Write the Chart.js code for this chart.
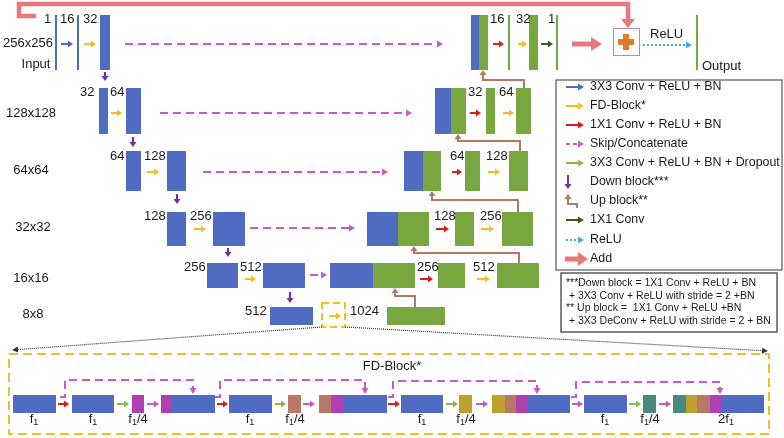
<!DOCTYPE html>
<html>
<head>
<meta charset="utf-8">
<script src="https://cdn.jsdelivr.net/npm/chart.js@4/dist/chart.umd.min.js"></script>
<style>
html, body { margin: 0; padding: 0; background: #fff; }
canvas { display: block; }
</style>
</head>
<body>
<canvas id="unetChart" width="784" height="438"></canvas>
<script>
var ctx = document.getElementById('unetChart').getContext('2d');

// colours used by the diagram
var colors = {
    blue: '#4f6cc2', green: '#78a63f', lightGreen: '#86b84c', red: '#e0191c', yellow: '#f2be22',
    skip: '#c65ac6', purple: '#6a36a0', brown: '#b8775f', darkGreen: '#3d5a22',
    relu: '#4aa6e6', add: '#e8787c', magenta: '#b040b2', salmon: '#b97766',
    gold: '#bfa02e', teal: '#468a80', plus: '#e07a2a', text: '#1a1a1a'
};

// --- chart content ---
var resolutionLabels = ['256x256', '128x128', '64x64', '32x32', '16x16', '8x8'];
var resolutionPos = [[28, 43], [31, 113], [31, 170], [33, 227], [31, 278], [33, 314]];

var channelLabels = ['1', '16', '32', '32', '64', '64', '128', '128', '256', '256', '512', '512',
    '16', '32', '1', '32', '64', '64', '128', '128', '256', '256', '512', '1024'];
var channelPos = [[44, 19], [60, 19], [83, 19], [80, 92], [110, 92], [110, 156], [144, 156],
    [144, 216], [190, 216], [184, 267], [240, 267], [245, 311],
    [490, 19], [516, 19], [548, 19], [468, 92], [499, 92], [450, 156], [486, 156],
    [434, 216], [480, 216], [417, 267], [473, 267], [350, 311]];

// feature map blocks: x0, y0, x1, y1, colour
var blocks = [
    [55, 15, 57, 70, 'blue'], [77, 15, 79, 70, 'blue'], [100, 15, 110, 70, 'blue'],
    [99, 88, 108, 134, 'blue'], [126, 88, 141, 134, 'blue'],
    [126, 151, 141, 191, 'blue'], [167, 151, 186, 191, 'blue'],
    [167, 212, 186, 246, 'blue'], [213, 212, 245, 246, 'blue'],
    [207, 263, 238, 288, 'blue'], [263, 263, 305, 288, 'blue'],
    [270, 307, 313, 325, 'blue'],
    [387, 307, 445, 325, 'green'],
    [330, 263, 373, 288, 'blue'], [373, 263, 415, 288, 'green'], [438, 263, 465, 288, 'green'], [497, 263, 539, 288, 'green'],
    [367, 212, 398, 246, 'blue'], [398, 212, 429, 246, 'green'], [455, 212, 474, 246, 'green'], [502, 212, 533, 246, 'green'],
    [404, 151, 423, 191, 'blue'], [423, 151, 441, 191, 'green'], [465, 151, 480, 191, 'green'], [509, 151, 528, 191, 'green'],
    [435, 88, 451, 134, 'blue'], [451, 88, 466, 134, 'green'], [486, 88, 495, 134, 'green'], [516, 88, 531, 134, 'green'],
    [471, 15, 479, 70, 'blue'], [479, 15, 488, 70, 'green'], [508, 15, 510, 70, 'green'], [529, 15, 538, 70, 'green'],
    [556, 15, 558, 70, 'green'], [696, 15, 698, 70, 'green']
];

// small horizontal operation arrows: x0, x1, y, colour
var opArrows = [
    [61, 73, 44, 'blue'], [84, 96, 44, 'yellow'], [493, 504, 44, 'red'], [518, 527, 44, 'yellow'], [541, 553, 44, 'darkGreen'],
    [111, 122, 113, 'yellow'], [470, 481, 113, 'red'], [503, 514, 113, 'yellow'],
    [147, 159, 172, 'yellow'], [452, 462, 172, 'red'], [488, 500, 172, 'yellow'],
    [194, 206, 229, 'yellow'], [436, 449, 229, 'red'], [481, 494, 229, 'yellow'],
    [245, 256, 279, 'yellow'], [420, 433, 279, 'red'], [477, 490, 279, 'yellow'],
    [329, 341, 316, 'yellow']
];

var skipArrows = [[125, 443, 44], [160, 412, 113], [203, 388, 172], [250, 355, 228], [310, 327, 275]];
var downArrows = [[105, 72, 81], [133, 137, 147], [177, 194, 204], [228, 248, 257], [290, 292, 303]];
var upArrows = [
    [[415, 307], [415, 296], [395, 296], [395, 288]],
    [[519, 263], [519, 253], [414, 253], [414, 246]],
    [[518, 212], [518, 200], [432, 200], [432, 191]],
    [[520, 151], [520, 141], [458, 141], [458, 134]],
    [[524, 88], [524, 80], [483, 80], [483, 70]]
];

var legendLabels = ['3X3 Conv + ReLU + BN', 'FD-Block*', '1X1 Conv + ReLU + BN', 'Skip/Concatenate',
    '3X3 Conv + ReLU + BN + Dropout', 'Down block***', 'Up block**', '1X1 Conv', 'ReLU', 'Add'];
var legendSymbols = ['blue', 'yellow', 'red', 'skip', 'lightGreen', 'down', 'up', 'darkGreen', 'relu', 'add'];
var legendY = [87, 106, 125, 144, 163, 182, 201, 220, 240, 259];

var noteLines = ['***Down block = 1X1 Conv + ReLU + BN', ' + 3X3 Conv + ReLU with stride = 2 +BN',
    '** Up block =  1X1 Conv + ReLU +BN', ' + 3X3 DeConv + ReLU with stride = 2 + BN'];
var noteY = [283, 296, 308, 321];

// FD-Block detail: segments x0, x1, colour (all at y 395-413)
var fdSegments = [
    [13, 56, 'blue'], [72, 114, 'blue'], [132, 144, 'magenta'],
    [161, 172, 'magenta'], [172, 215, 'blue'],
    [229, 272, 'blue'], [288, 301, 'salmon'],
    [319, 331, 'salmon'], [331, 343, 'magenta'], [343, 387, 'blue'],
    [401, 443, 'blue'], [459, 472, 'gold'],
    [492, 505, 'gold'], [505, 516, 'salmon'], [516, 527, 'magenta'], [527, 570, 'blue'],
    [584, 627, 'blue'], [643, 656, 'teal'],
    [673, 686, 'teal'], [686, 697, 'gold'], [697, 710, 'salmon'], [710, 722, 'magenta'], [722, 764, 'blue']
];
var fdArrows = [[58, 69, 'red'], [117, 129, 'lightGreen'], [147, 159, 'skip'], [217, 228, 'red'],
    [275, 286, 'lightGreen'], [303, 315, 'skip'], [388, 400, 'red'], [446, 458, 'lightGreen'],
    [476, 488, 'skip'], [572, 583, 'skip'], [629, 641, 'lightGreen'], [659, 671, 'skip']];
var fdSkips = [
    [[60, 397], [65, 397], [65, 380], [193, 380], [193, 394]],
    [[215, 397], [220, 397], [220, 380], [365, 380], [365, 394]],
    [[388, 397], [393, 397], [393, 381], [537, 381], [537, 394]],
    [[571, 397], [576, 397], [576, 382], [720, 382], [720, 394]]
];
var fdLabels = [['', 'f', '1', ''], ['', 'f', '1', ''], ['', 'f', '1', '/4'], ['', 'f', '1', ''], ['', 'f', '1', '/4'],
    ['', 'f', '1', ''], ['', 'f', '1', '/4'], ['', 'f', '1', ''], ['', 'f', '1', '/4'], ['2', 'f', '1', '']];
var fdLabelX = [34, 93, 138, 250, 295, 422, 466, 605, 650, 726];

var FONT = '"Liberation Sans", Arial, sans-serif';

var diagramPlugin = {
    id: 'diagram',
    afterDraw: function (chart) {
        var c = chart.ctx;
        var xs = chart.scales.x, ys = chart.scales.y;
        function px(v) { return xs.getPixelForValue(v); }
        function py(v) { return ys.getPixelForValue(v); }

        function rect(x0, y0, x1, y1, fill) {
            c.fillStyle = fill;
            c.fillRect(px(x0), py(y0), px(x1) - px(x0), py(y1) - py(y0));
        }

        function arrow(pts, color, lw, headLen, headW, dash) {
            var p = pts.map(function (q) { return [px(q[0]), py(q[1])]; });
            var n = p.length;
            var dx = p[n - 1][0] - p[n - 2][0], dy = p[n - 1][1] - p[n - 2][1];
            var len = Math.sqrt(dx * dx + dy * dy) || 1;
            dx /= len; dy /= len;
            var tip = p[n - 1];
            c.save();
            c.strokeStyle = color;
            c.fillStyle = color;
            c.lineWidth = lw;
            c.lineJoin = 'miter';
            c.setLineDash(dash || []);
            c.beginPath();
            c.moveTo(p[0][0], p[0][1]);
            for (var i = 1; i < n - 1; i++) c.lineTo(p[i][0], p[i][1]);
            c.lineTo(tip[0] - dx * headLen * 0.8, tip[1] - dy * headLen * 0.8);
            c.stroke();
            c.setLineDash([]);
            c.beginPath();
            c.moveTo(tip[0], tip[1]);
            c.lineTo(tip[0] - dx * headLen - dy * headW, tip[1] - dy * headLen + dx * headW);
            c.lineTo(tip[0] - dx * headLen + dy * headW, tip[1] - dy * headLen - dx * headW);
            c.closePath();
            c.fill();
            c.restore();
        }

        function text(str, x, y, size, align) {
            c.font = size + 'px ' + FONT;
            c.fillStyle = colors.text;
            c.textAlign = align || 'left';
            c.textBaseline = 'middle';
            c.fillText(str, px(x), py(y));
        }

        // add (residual) path across the top
        arrow([[36, 16], [19, 16], [19, 4], [628, 4], [628, 28]], colors.add, 4.5, 9, 7);

        // resolution labels
        resolutionLabels.forEach(function (t, i) { text(t, resolutionPos[i][0], resolutionPos[i][1], 13, 'center'); });
        text('Input', 36, 64, 13, 'center');

        // skip connections
        skipArrows.forEach(function (s) { arrow([[s[0], s[2]], [s[1], s[2]]], colors.skip, 2, 6, 3.5, [8, 5]); });

        // feature maps
        blocks.forEach(function (b) { rect(b[0], b[1], b[2], b[3], colors[b[4]]); });

        // channel labels
        channelLabels.forEach(function (t, i) { text(t, channelPos[i][0], channelPos[i][1], 13); });

        // op arrows
        opArrows.forEach(function (a) { arrow([[a[0], a[2]], [a[1], a[2]]], colors[a[3]], 2, 5, 3.5); });
        downArrows.forEach(function (a) { arrow([[a[0], a[1]], [a[0], a[2]]], colors.purple, 2.2, 5, 3.5); });
        upArrows.forEach(function (a) { arrow(a, colors.brown, 2, 5, 3.5); });

        // bottleneck FD-Block marker
        c.save();
        c.strokeStyle = colors.yellow;
        c.lineWidth = 2;
        c.setLineDash([7, 4]);
        c.strokeRect(px(322), py(303), px(345) - px(322), py(327) - py(303));
        c.restore();

        // add + relu + output
        arrow([[572, 44], [602, 44]], colors.add, 5, 11, 7);
        c.strokeStyle = '#b786c8';
        c.lineWidth = 1;
        c.strokeRect(px(613) + 0.5, py(28) + 0.5, px(639) - px(613), py(55) - py(28));
        rect(623, 34, 629, 50, colors.plus);
        rect(618, 39, 634, 45, colors.plus);
        arrow([[643, 45], [692, 45]], colors.relu, 2, 6, 3.5, [2, 2]);
        text('ReLU', 650, 34, 13);
        text('Output', 702, 66, 13);

        // legend
        c.strokeStyle = '#555';
        c.lineWidth = 1.2;
        c.strokeRect(px(556), py(80), px(782) - px(556), py(270) - py(80));
        legendLabels.forEach(function (t, i) {
            var y = legendY[i], s = legendSymbols[i];
            if (s === 'skip') arrow([[566, y], [584, y]], colors.skip, 2, 6, 3.5, [4, 3]);
            else if (s === 'down') arrow([[568, y - 7], [568, y + 7]], colors.purple, 2, 5, 3.5);
            else if (s === 'up') arrow([[577, y + 7], [577, y + 3], [568, y + 3], [568, y - 7]], colors.brown, 2, 5, 3.5);
            else if (s === 'relu') arrow([[566, y], [584, y]], colors.relu, 2, 6, 3.5, [2, 2]);
            else if (s === 'add') arrow([[565, y], [588, y]], colors.add, 5, 10, 7);
            else arrow([[566, y], [584, y]], colors[s], 2, 6, 3.5);
            text(t, 590, y, 12.4);
        });

        // note box
        c.strokeStyle = '#333';
        c.lineWidth = 1.2;
        c.strokeRect(px(561), py(273), px(777) - px(561), py(332) - py(273));
        noteLines.forEach(function (t, i) { text(t, 566, noteY[i], 10.5); });

        // zoom lines to FD-Block detail
        arrow([[322, 327], [12, 350]], '#333', 1.2, 6, 3, [1, 1]);
        arrow([[345, 327], [768, 351]], '#333', 1.2, 6, 3, [1, 1]);

        // FD-Block detail frame
        c.save();
        c.strokeStyle = '#e8c030';
        c.lineWidth = 2;
        c.setLineDash([9, 5]);
        c.strokeRect(px(9), py(354), px(769) - px(9), py(434) - py(354));
        c.restore();
        text('FD-Block*', 392, 366, 13, 'center');

        fdSkips.forEach(function (s) { arrow(s, colors.skip, 2, 6, 3.5, [8, 5]); });
        fdSegments.forEach(function (s) { rect(s[0], 395, s[1], 413, colors[s[2]]); });
        fdArrows.forEach(function (a) { arrow([[a[0], 404], [a[1], 404]], colors[a[2]], 2, 5, 3.5); });

        // f1 labels with subscript
        fdLabels.forEach(function (l, i) {
            c.font = '13px ' + FONT;
            var w1 = c.measureText(l[0] + l[1]).width;
            var w3 = c.measureText(l[3]).width;
            c.font = '9px ' + FONT;
            var w2 = c.measureText(l[2]).width;
            var x = px(fdLabelX[i]) - (w1 + w2 + w3) / 2;
            var y = py(419);
            c.fillStyle = colors.text;
            c.textAlign = 'left';
            c.textBaseline = 'middle';
            c.font = '13px ' + FONT;
            c.fillText(l[0] + l[1], x, y);
            c.font = '9px ' + FONT;
            c.fillText(l[2], x + w1, y + 4);
            c.font = '13px ' + FONT;
            c.fillText(l[3], x + w1 + w2, y);
        });
    }
};

var unetChart = new Chart(ctx, {
    type: 'scatter',
    data: { datasets: [{ data: [] }] },
    options: {
        responsive: false,
        animation: false,
        layout: { padding: 0 },
        plugins: { legend: { display: false }, tooltip: { enabled: false } },
        scales: {
            x: { type: 'linear', min: 0, max: 784, display: false },
            y: { type: 'linear', min: 0, max: 438, reverse: true, display: false }
        }
    },
    plugins: [diagramPlugin]
});
</script>
</body>
</html>
